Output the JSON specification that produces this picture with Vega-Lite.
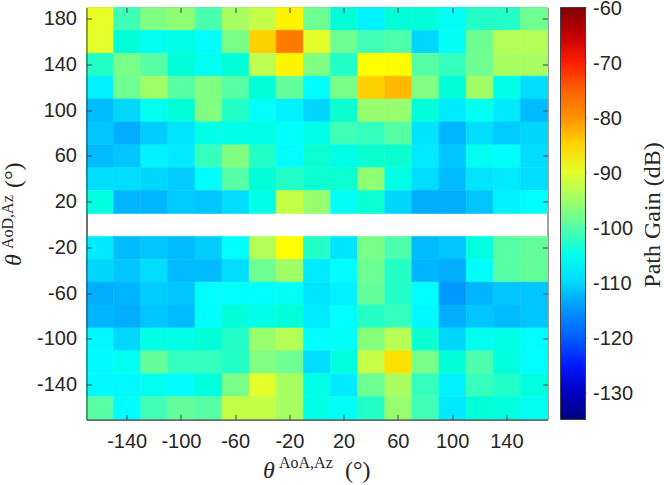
{
  "$schema": "https://vega.github.io/schema/vega-lite/v6.json",
  "description": "Path gain over AoA and AoD azimuth",
  "autosize": "none",
  "padding": {"left": 86.5, "top": 7.5, "right": 116.5, "bottom": 65.5},
  "width": 461,
  "height": 412,
  "background": "white",
  "config": {"view": {"stroke": "#404040", "strokeWidth": 1}},
  "datasets": {
    "cells": [
      {"aoa":-160,"aod":180,"gain":-89.8},{"aoa":-140,"aod":180,"gain":-101},{"aoa":-120,"aod":180,"gain":-97.5},{"aoa":-100,"aod":180,"gain":-96.3},{"aoa":-80,"aod":180,"gain":-100.5},{"aoa":-60,"aod":180,"gain":-94.5},{"aoa":-40,"aod":180,"gain":-92.3},{"aoa":-20,"aod":180,"gain":-87.3},{"aoa":0,"aod":180,"gain":-98.6},{"aoa":20,"aod":180,"gain":-103.5},{"aoa":40,"aod":180,"gain":-108},{"aoa":60,"aod":180,"gain":-103.5},{"aoa":80,"aod":180,"gain":-103.5},{"aoa":100,"aod":180,"gain":-106},{"aoa":120,"aod":180,"gain":-102.2},{"aoa":140,"aod":180,"gain":-102.2},{"aoa":160,"aod":180,"gain":-98.6},
      {"aoa":-160,"aod":160,"gain":-90},{"aoa":-140,"aod":160,"gain":-103.5},{"aoa":-120,"aod":160,"gain":-105.5},{"aoa":-100,"aod":160,"gain":-104.6},{"aoa":-80,"aod":160,"gain":-107},{"aoa":-60,"aod":160,"gain":-98},{"aoa":-40,"aod":160,"gain":-84.6},{"aoa":-20,"aod":160,"gain":-78},{"aoa":0,"aod":160,"gain":-90},{"aoa":20,"aod":160,"gain":-98.6},{"aoa":40,"aod":160,"gain":-101},{"aoa":60,"aod":160,"gain":-100.3},{"aoa":80,"aod":160,"gain":-110.2},{"aoa":100,"aod":160,"gain":-106},{"aoa":120,"aod":160,"gain":-98.6},{"aoa":140,"aod":160,"gain":-93.5},{"aoa":160,"aod":160,"gain":-93.5},
      {"aoa":-160,"aod":140,"gain":-102.2},{"aoa":-140,"aod":140,"gain":-98},{"aoa":-120,"aod":140,"gain":-99.8},{"aoa":-100,"aod":140,"gain":-103.5},{"aoa":-80,"aod":140,"gain":-105.5},{"aoa":-60,"aod":140,"gain":-103.5},{"aoa":-40,"aod":140,"gain":-92.8},{"aoa":-20,"aod":140,"gain":-87.3},{"aoa":0,"aod":140,"gain":-97.5},{"aoa":20,"aod":140,"gain":-102.2},{"aoa":40,"aod":140,"gain":-88.1},{"aoa":60,"aod":140,"gain":-88},{"aoa":80,"aod":140,"gain":-99.8},{"aoa":100,"aod":140,"gain":-101.5},{"aoa":120,"aod":140,"gain":-98.6},{"aoa":140,"aod":140,"gain":-94.5},{"aoa":160,"aod":140,"gain":-94.5},
      {"aoa":-160,"aod":120,"gain":-108},{"aoa":-140,"aod":120,"gain":-98.6},{"aoa":-120,"aod":120,"gain":-95},{"aoa":-100,"aod":120,"gain":-99.8},{"aoa":-80,"aod":120,"gain":-97.5},{"aoa":-60,"aod":120,"gain":-99.8},{"aoa":-40,"aod":120,"gain":-103.5},{"aoa":-20,"aod":120,"gain":-99.2},{"aoa":0,"aod":120,"gain":-107},{"aoa":20,"aod":120,"gain":-98},{"aoa":40,"aod":120,"gain":-84.6},{"aoa":60,"aod":120,"gain":-82.9},{"aoa":80,"aod":120,"gain":-97.5},{"aoa":100,"aod":120,"gain":-103.5},{"aoa":120,"aod":120,"gain":-95},{"aoa":140,"aod":120,"gain":-104.6},{"aoa":160,"aod":120,"gain":-109.7},
      {"aoa":-160,"aod":100,"gain":-112.2},{"aoa":-140,"aod":100,"gain":-110.2},{"aoa":-120,"aod":100,"gain":-105.5},{"aoa":-100,"aod":100,"gain":-103.5},{"aoa":-80,"aod":100,"gain":-97.5},{"aoa":-60,"aod":100,"gain":-102.2},{"aoa":-40,"aod":100,"gain":-106.5},{"aoa":-20,"aod":100,"gain":-108},{"aoa":0,"aod":100,"gain":-110.2},{"aoa":20,"aod":100,"gain":-102.8},{"aoa":40,"aod":100,"gain":-95.7},{"aoa":60,"aod":100,"gain":-95.7},{"aoa":80,"aod":100,"gain":-103.5},{"aoa":100,"aod":100,"gain":-108.6},{"aoa":120,"aod":100,"gain":-105.5},{"aoa":140,"aod":100,"gain":-108.6},{"aoa":160,"aod":100,"gain":-112.2},
      {"aoa":-160,"aod":80,"gain":-111.6},{"aoa":-140,"aod":80,"gain":-113.3},{"aoa":-120,"aod":80,"gain":-111},{"aoa":-100,"aod":80,"gain":-109.1},{"aoa":-80,"aod":80,"gain":-104.6},{"aoa":-60,"aod":80,"gain":-104.6},{"aoa":-40,"aod":80,"gain":-104.6},{"aoa":-20,"aod":80,"gain":-106.5},{"aoa":0,"aod":80,"gain":-104.6},{"aoa":20,"aod":80,"gain":-101},{"aoa":40,"aod":80,"gain":-101.5},{"aoa":60,"aod":80,"gain":-99.8},{"aoa":80,"aod":80,"gain":-109.1},{"aoa":100,"aod":80,"gain":-112.7},{"aoa":120,"aod":80,"gain":-109.7},{"aoa":140,"aod":80,"gain":-111},{"aoa":160,"aod":80,"gain":-110.2},
      {"aoa":-160,"aod":60,"gain":-112.2},{"aoa":-140,"aod":60,"gain":-111.6},{"aoa":-120,"aod":60,"gain":-108},{"aoa":-100,"aod":60,"gain":-108.6},{"aoa":-80,"aod":60,"gain":-101.5},{"aoa":-60,"aod":60,"gain":-97.5},{"aoa":-40,"aod":60,"gain":-102.2},{"aoa":-20,"aod":60,"gain":-107},{"aoa":0,"aod":60,"gain":-102.8},{"aoa":20,"aod":60,"gain":-104.6},{"aoa":40,"aod":60,"gain":-102.8},{"aoa":60,"aod":60,"gain":-102.8},{"aoa":80,"aod":60,"gain":-108.6},{"aoa":100,"aod":60,"gain":-111.6},{"aoa":120,"aod":60,"gain":-105.5},{"aoa":140,"aod":60,"gain":-106.5},{"aoa":160,"aod":60,"gain":-109.7},
      {"aoa":-160,"aod":40,"gain":-109.7},{"aoa":-140,"aod":40,"gain":-109.7},{"aoa":-120,"aod":40,"gain":-110.2},{"aoa":-100,"aod":40,"gain":-111},{"aoa":-80,"aod":40,"gain":-107},{"aoa":-60,"aod":40,"gain":-99.8},{"aoa":-40,"aod":40,"gain":-103.5},{"aoa":-20,"aod":40,"gain":-102.2},{"aoa":0,"aod":40,"gain":-102.8},{"aoa":20,"aod":40,"gain":-102.8},{"aoa":40,"aod":40,"gain":-96.3},{"aoa":60,"aod":40,"gain":-104.6},{"aoa":80,"aod":40,"gain":-109.7},{"aoa":100,"aod":40,"gain":-112.2},{"aoa":120,"aod":40,"gain":-109.1},{"aoa":140,"aod":40,"gain":-108.6},{"aoa":160,"aod":40,"gain":-109.7},
      {"aoa":-160,"aod":20,"gain":-104},{"aoa":-140,"aod":20,"gain":-112.7},{"aoa":-120,"aod":20,"gain":-112.7},{"aoa":-100,"aod":20,"gain":-111},{"aoa":-80,"aod":20,"gain":-111.6},{"aoa":-60,"aod":20,"gain":-109.7},{"aoa":-40,"aod":20,"gain":-104.6},{"aoa":-20,"aod":20,"gain":-92.3},{"aoa":0,"aod":20,"gain":-95.7},{"aoa":20,"aod":20,"gain":-106},{"aoa":40,"aod":20,"gain":-102.8},{"aoa":60,"aod":20,"gain":-110.2},{"aoa":80,"aod":20,"gain":-113.3},{"aoa":100,"aod":20,"gain":-113.3},{"aoa":120,"aod":20,"gain":-111.6},{"aoa":140,"aod":20,"gain":-108},{"aoa":160,"aod":20,"gain":-106.9},
      {"aoa":-160,"aod":-20,"gain":-108.6},{"aoa":-140,"aod":-20,"gain":-112.2},{"aoa":-120,"aod":-20,"gain":-111.6},{"aoa":-100,"aod":-20,"gain":-112.2},{"aoa":-80,"aod":-20,"gain":-111},{"aoa":-60,"aod":-20,"gain":-107},{"aoa":-40,"aod":-20,"gain":-93.5},{"aoa":-20,"aod":-20,"gain":-88.1},{"aoa":0,"aod":-20,"gain":-102.2},{"aoa":20,"aod":-20,"gain":-109.1},{"aoa":40,"aod":-20,"gain":-98},{"aoa":60,"aod":-20,"gain":-100.3},{"aoa":80,"aod":-20,"gain":-112.2},{"aoa":100,"aod":-20,"gain":-111.6},{"aoa":120,"aod":-20,"gain":-104},{"aoa":140,"aod":-20,"gain":-99.8},{"aoa":160,"aod":-20,"gain":-99.2},
      {"aoa":-160,"aod":-40,"gain":-110.2},{"aoa":-140,"aod":-40,"gain":-111.6},{"aoa":-120,"aod":-40,"gain":-109.7},{"aoa":-100,"aod":-40,"gain":-112.2},{"aoa":-80,"aod":-40,"gain":-112.2},{"aoa":-60,"aod":-40,"gain":-109.7},{"aoa":-40,"aod":-40,"gain":-98.6},{"aoa":-20,"aod":-40,"gain":-95},{"aoa":0,"aod":-40,"gain":-108.6},{"aoa":20,"aod":-40,"gain":-107},{"aoa":40,"aod":-40,"gain":-98.6},{"aoa":60,"aod":-40,"gain":-102.2},{"aoa":80,"aod":-40,"gain":-112.7},{"aoa":100,"aod":-40,"gain":-113.3},{"aoa":120,"aod":-40,"gain":-107},{"aoa":140,"aod":-40,"gain":-99.8},{"aoa":160,"aod":-40,"gain":-99.2},
      {"aoa":-160,"aod":-60,"gain":-113.3},{"aoa":-140,"aod":-60,"gain":-112.7},{"aoa":-120,"aod":-60,"gain":-111},{"aoa":-100,"aod":-60,"gain":-111.6},{"aoa":-80,"aod":-60,"gain":-107},{"aoa":-60,"aod":-60,"gain":-107},{"aoa":-40,"aod":-60,"gain":-107},{"aoa":-20,"aod":-60,"gain":-106},{"aoa":0,"aod":-60,"gain":-109.1},{"aoa":20,"aod":-60,"gain":-108},{"aoa":40,"aod":-60,"gain":-99.2},{"aoa":60,"aod":-60,"gain":-102.2},{"aoa":80,"aod":-60,"gain":-107},{"aoa":100,"aod":-60,"gain":-114.6},{"aoa":120,"aod":-60,"gain":-112.7},{"aoa":140,"aod":-60,"gain":-111.6},{"aoa":160,"aod":-60,"gain":-111.6},
      {"aoa":-160,"aod":-80,"gain":-112.7},{"aoa":-140,"aod":-80,"gain":-113.3},{"aoa":-120,"aod":-80,"gain":-111.6},{"aoa":-100,"aod":-80,"gain":-112.2},{"aoa":-80,"aod":-80,"gain":-107},{"aoa":-60,"aod":-80,"gain":-103.5},{"aoa":-40,"aod":-80,"gain":-104.6},{"aoa":-20,"aod":-80,"gain":-103.5},{"aoa":0,"aod":-80,"gain":-108.6},{"aoa":20,"aod":-80,"gain":-107},{"aoa":40,"aod":-80,"gain":-102.2},{"aoa":60,"aod":-80,"gain":-101.5},{"aoa":80,"aod":-80,"gain":-107.3},{"aoa":100,"aod":-80,"gain":-113.3},{"aoa":120,"aod":-80,"gain":-111.6},{"aoa":140,"aod":-80,"gain":-112.2},{"aoa":160,"aod":-80,"gain":-111.6},
      {"aoa":-160,"aod":-100,"gain":-107.3},{"aoa":-140,"aod":-100,"gain":-110.2},{"aoa":-120,"aod":-100,"gain":-104.6},{"aoa":-100,"aod":-100,"gain":-104.6},{"aoa":-80,"aod":-100,"gain":-103.5},{"aoa":-60,"aod":-100,"gain":-102.2},{"aoa":-40,"aod":-100,"gain":-95.7},{"aoa":-20,"aod":-100,"gain":-93.5},{"aoa":0,"aod":-100,"gain":-107},{"aoa":20,"aod":-100,"gain":-106},{"aoa":40,"aod":-100,"gain":-97},{"aoa":60,"aod":-100,"gain":-93.3},{"aoa":80,"aod":-100,"gain":-102.8},{"aoa":100,"aod":-100,"gain":-110.2},{"aoa":120,"aod":-100,"gain":-105.5},{"aoa":140,"aod":-100,"gain":-104.6},{"aoa":160,"aod":-100,"gain":-107},
      {"aoa":-160,"aod":-120,"gain":-107.3},{"aoa":-140,"aod":-120,"gain":-105.5},{"aoa":-120,"aod":-120,"gain":-99.2},{"aoa":-100,"aod":-120,"gain":-101.5},{"aoa":-80,"aod":-120,"gain":-101.5},{"aoa":-60,"aod":-120,"gain":-102.2},{"aoa":-40,"aod":-120,"gain":-97.5},{"aoa":-20,"aod":-120,"gain":-98.6},{"aoa":0,"aod":-120,"gain":-109.7},{"aoa":20,"aod":-120,"gain":-104},{"aoa":40,"aod":-120,"gain":-92.2},{"aoa":60,"aod":-120,"gain":-85.9},{"aoa":80,"aod":-120,"gain":-98},{"aoa":100,"aod":-120,"gain":-103.5},{"aoa":120,"aod":-120,"gain":-100.3},{"aoa":140,"aod":-120,"gain":-104},{"aoa":160,"aod":-120,"gain":-107},
      {"aoa":-160,"aod":-140,"gain":-107.3},{"aoa":-140,"aod":-140,"gain":-107.3},{"aoa":-120,"aod":-140,"gain":-105.5},{"aoa":-100,"aod":-140,"gain":-107},{"aoa":-80,"aod":-140,"gain":-104},{"aoa":-60,"aod":-140,"gain":-98},{"aoa":-40,"aod":-140,"gain":-90},{"aoa":-20,"aod":-140,"gain":-94.5},{"aoa":0,"aod":-140,"gain":-104.6},{"aoa":20,"aod":-140,"gain":-108.6},{"aoa":40,"aod":-140,"gain":-98.6},{"aoa":60,"aod":-140,"gain":-94.5},{"aoa":80,"aod":-140,"gain":-101.5},{"aoa":100,"aod":-140,"gain":-108},{"aoa":120,"aod":-140,"gain":-101.5},{"aoa":140,"aod":-140,"gain":-102.2},{"aoa":160,"aod":-140,"gain":-104},
      {"aoa":-160,"aod":-160,"gain":-99.8},{"aoa":-140,"aod":-160,"gain":-107},{"aoa":-120,"aod":-160,"gain":-101},{"aoa":-100,"aod":-160,"gain":-99.2},{"aoa":-80,"aod":-160,"gain":-99.8},{"aoa":-60,"aod":-160,"gain":-92.3},{"aoa":-40,"aod":-160,"gain":-92.3},{"aoa":-20,"aod":-160,"gain":-94.5},{"aoa":0,"aod":-160,"gain":-104.6},{"aoa":20,"aod":-160,"gain":-106},{"aoa":40,"aod":-160,"gain":-102.2},{"aoa":60,"aod":-160,"gain":-95.7},{"aoa":80,"aod":-160,"gain":-101},{"aoa":100,"aod":-160,"gain":-108.6},{"aoa":120,"aod":-160,"gain":-103.5},{"aoa":140,"aod":-160,"gain":-104},{"aoa":160,"aod":-160,"gain":-105.5}
    ]
  },
  "encoding": {
    "x": {
      "field": "aoa",
      "type": "ordinal",
      "scale": {"domain": [-160,-140,-120,-100,-80,-60,-40,-20,0,20,40,60,80,100,120,140,160], "paddingInner": 0, "paddingOuter": 0}
    },
    "y": {
      "field": "aod",
      "type": "ordinal",
      "scale": {"domain": [180,160,140,120,100,80,60,40,20,0,-20,-40,-60,-80,-100,-120,-140,-160], "paddingInner": 0, "paddingOuter": 0}
    }
  },
  "resolve": {"axis": {"x": "independent", "y": "independent"}, "scale": {"y": "independent"}},
  "layer": [
    {
      "data": {"name": "cells"},
      "mark": {"type": "rect", "strokeWidth": 0.6, "stroke": {"expr": "scale('color', datum.gain)"}},
      "encoding": {
        "x": {
          "field": "aoa",
          "type": "ordinal",
          "axis": {
            "orient": "bottom",
            "values": [-140,-100,-60,-20,20,60,100,140],
            "labelAngle": 0,
            "labelFont": "Liberation Sans",
            "labelFontSize": 20,
            "labelColor": "#262626",
            "labelPadding": 17,
            "tickSize": -5,
            "tickColor": "#404040",
            "domainColor": "#404040",
            "title": "θ",
            "titleFont": "Liberation Serif",
            "titleFontStyle": "italic",
            "titleFontWeight": "normal",
            "titleFontSize": 24,
            "titleColor": "#262626",
            "titleAlign": "left",
            "titleBaseline": "alphabetic",
            "titleX": 176,
            "titleY": 58
          }
        },
        "y": {
          "field": "aod",
          "type": "ordinal",
          "axis": {
            "orient": "left",
            "values": [180,140,100,60,20,-20,-60,-100,-140],
            "labelFont": "Liberation Sans",
            "labelFontSize": 20,
            "labelColor": "#262626",
            "labelPadding": 15,
            "tickSize": -5,
            "tickColor": "#404040",
            "domainColor": "#404040",
            "title": "θ",
            "titleFont": "Liberation Serif",
            "titleFontStyle": "italic",
            "titleFontWeight": "normal",
            "titleFontSize": 24,
            "titleColor": "#262626",
            "titleAngle": -90,
            "titleAlign": "left",
            "titleBaseline": "alphabetic",
            "titleX": -66,
            "titleY": 258
          }
        },
        "color": {
          "field": "gain",
          "type": "quantitative",
          "scale": {
            "domain": [-135,-125.625,-116.25,-106.875,-97.5,-88.125,-78.75,-69.375,-60],
            "range": ["#000080","#0000ff","#0080ff","#00ffff","#80ff80","#ffff00","#ff8000","#ff0000","#800000"]
          },
          "legend": {
            "orient": "none",
            "legendX": 474,
            "legendY": 0,
            "title": null,
            "type": "gradient",
            "direction": "vertical",
            "gradientLength": 412,
            "gradientThickness": 25,
            "gradientStrokeColor": "#404040",
            "gradientStrokeWidth": 1,
            "values": [],
            "padding": 0
          }
        }
      }
    },
    {
      "data": {"values": []},
      "mark": {"type": "rect"},
      "encoding": {
        "x": {
          "field": "aoa",
          "type": "ordinal",
          "axis": {
            "orient": "top",
            "values": [-140,-100,-60,-20,20,60,100,140],
            "labels": false,
            "tickSize": -5,
            "tickColor": "#404040",
            "domain": false,
            "title": "AoA,Az",
            "titleFont": "Liberation Serif",
            "titleFontWeight": "normal",
            "titleFontSize": 16,
            "titleColor": "#262626",
            "titleAlign": "left",
            "titleBaseline": "alphabetic",
            "titleX": 192,
            "titleY": 460
          }
        },
        "y": {
          "field": "aod",
          "type": "ordinal",
          "axis": {
            "orient": "right",
            "values": [180,140,100,60,20,-20,-60,-100,-140],
            "labels": false,
            "tickSize": -5,
            "tickColor": "#404040",
            "domain": false,
            "title": "AoD,Az",
            "titleFont": "Liberation Serif",
            "titleFontWeight": "normal",
            "titleFontSize": 16,
            "titleColor": "#262626",
            "titleAngle": -90,
            "titleAlign": "left",
            "titleBaseline": "alphabetic",
            "titleX": -535,
            "titleY": 241
          }
        }
      }
    },
    {
      "data": {"values": []},
      "mark": {"type": "rect"},
      "encoding": {
        "x": {
          "field": "aoa",
          "type": "ordinal",
          "axis": {
            "orient": "bottom",
            "values": [],
            "labels": false,
            "ticks": false,
            "domain": false,
            "title": "(°)",
            "titleFont": "Liberation Serif",
            "titleFontWeight": "normal",
            "titleFontSize": 24,
            "titleColor": "#262626",
            "titleAlign": "left",
            "titleBaseline": "alphabetic",
            "titleX": 258,
            "titleY": 58
          }
        },
        "y": {
          "field": "aod",
          "type": "ordinal",
          "axis": {
            "orient": "left",
            "values": [],
            "labels": false,
            "ticks": false,
            "domain": false,
            "title": "(°)",
            "titleFont": "Liberation Serif",
            "titleFontWeight": "normal",
            "titleFontSize": 24,
            "titleColor": "#262626",
            "titleAngle": -90,
            "titleAlign": "left",
            "titleBaseline": "alphabetic",
            "titleX": -66,
            "titleY": 180
          }
        }
      }
    },
    {
      "data": {"values": []},
      "mark": {"type": "rule"},
      "encoding": {
        "x": {"field": "aoa", "type": "ordinal", "axis": null},
        "y": {
          "field": "gain",
          "type": "quantitative",
          "scale": {"domain": [-135,-60], "nice": false, "zero": false},
          "axis": {
            "orient": "right",
            "offset": 38.5,
            "values": [-130,-120,-110,-100,-90,-80,-70,-60],
            "labelExpr": "toString(datum.value)",
            "grid": false,
            "domain": false,
            "tickSize": -4,
            "tickColor": "#404040",
            "labelFont": "Liberation Sans",
            "labelFontSize": 20,
            "labelColor": "#262626",
            "labelPadding": 10.5,
            "labelOffset": 1,
            "title": "Path Gain (dB)",
            "titleFont": "Liberation Serif",
            "titleFontWeight": "normal",
            "titleFontSize": 24,
            "titleColor": "#262626",
            "titleAngle": -90,
            "titleAlign": "center",
            "titleBaseline": "middle",
            "titleX": 66,
            "titleY": 207
          }
        }
      }
    }
  ]
}
